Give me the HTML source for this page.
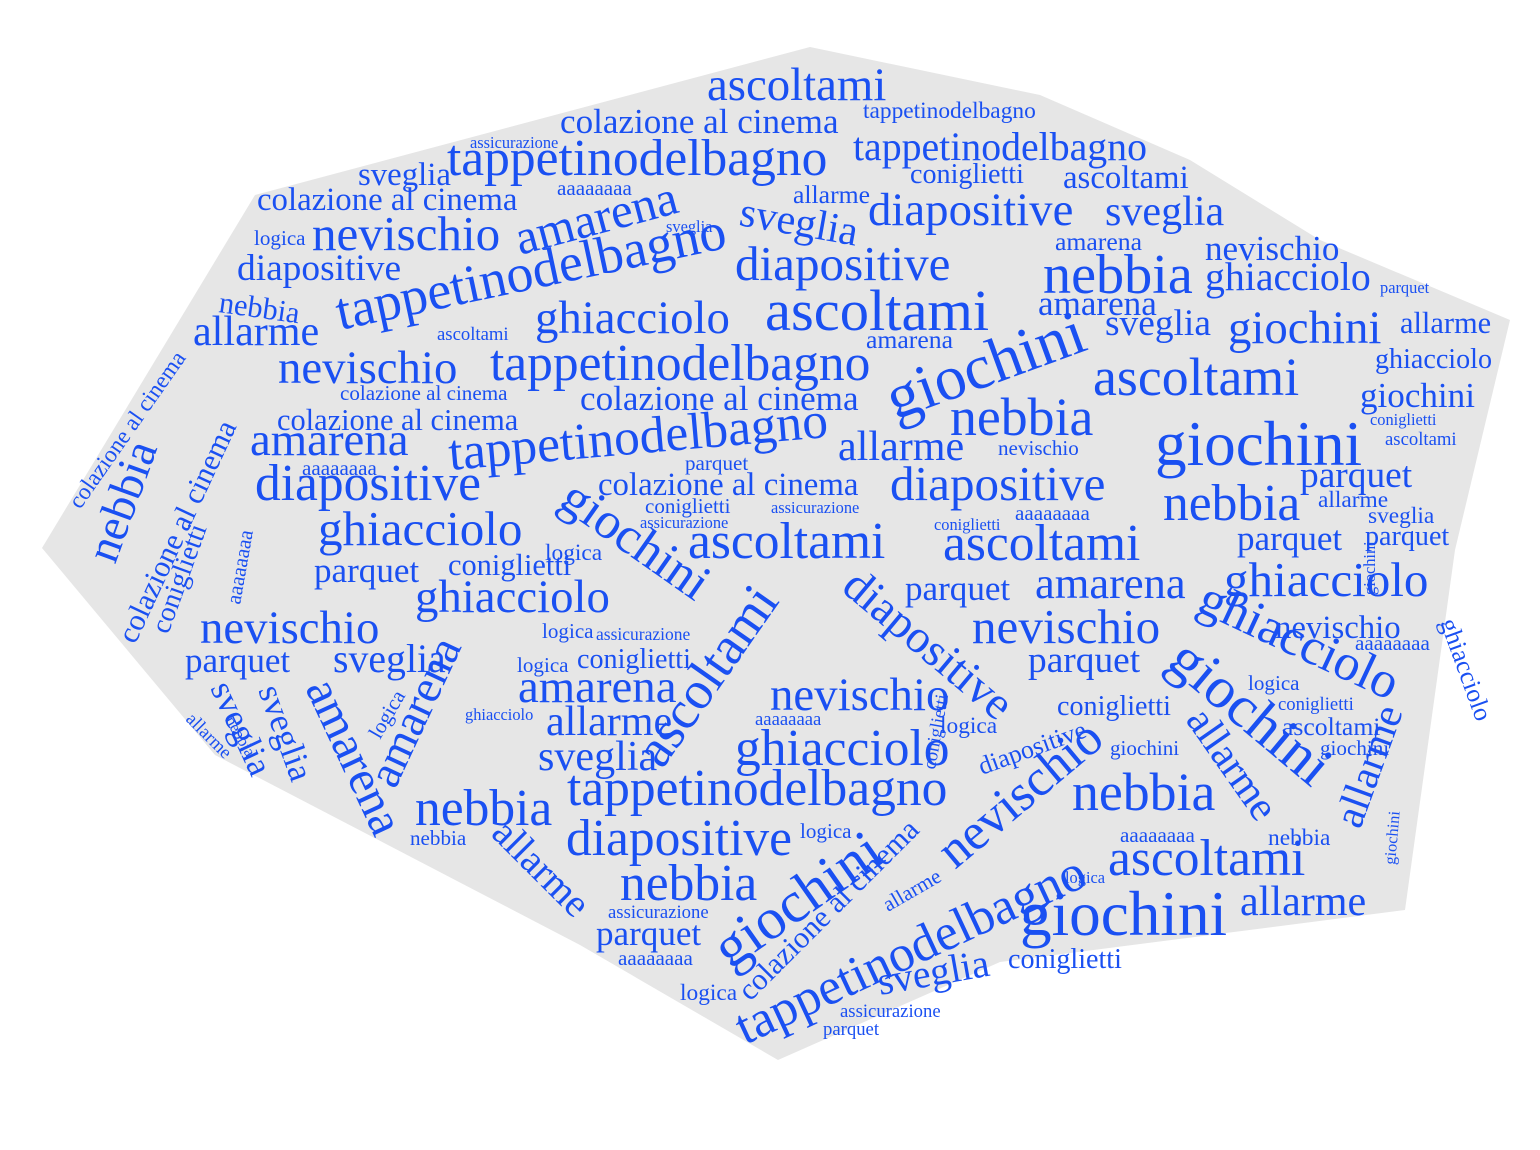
<!DOCTYPE html>
<html><head><meta charset="utf-8">
<style>
html,body{margin:0;padding:0;background:#fff;}
svg{display:block;}
text{font-family:"Liberation Serif",serif;fill:#1a50f2;}
</style></head>
<body>
<svg id="cloud" width="1540" height="1150" viewBox="0 0 1540 1150">
<polygon fill="#e6e6e6"
points="255,195 810,47 1040,95 1190,160 1320,240 1510,320 1455,550 1405,910 1000,962 778,1060 580,945 215,755 42,548"/>
<g id="words"></g>
</svg>
<script>
const words=["ascoltami","tappetinodelbagno","colazione al cinema","assicurazione","tappetinodelbagno","tappetinodelbagno","sveglia","coniglietti","ascoltami","aaaaaaaa","colazione al cinema","allarme","diapositive","sveglia","nevischio","amarena","sveglia","sveglia","logica","diapositive","tappetinodelbagno","diapositive","amarena","nevischio","nebbia","ghiacciolo","amarena","parquet","nebbia","allarme","ghiacciolo","ascoltami","ascoltami","amarena","sveglia","giochini","allarme","giochini","nevischio","tappetinodelbagno","ascoltami","ghiacciolo","giochini","colazione al cinema","colazione al cinema","colazione al cinema","nebbia","coniglietti","amarena","tappetinodelbagno","allarme","nevischio","giochini","ascoltami","parquet","nebbia","colazione al cinema","colazione al cinema","diapositive","aaaaaaaa","parquet","colazione al cinema","diapositive","nebbia","allarme","sveglia","giochini","coniglietti","assicurazione","assicurazione","coniglietti","aaaaaaaa","ghiacciolo","ascoltami","ascoltami","parquet","parquet","coniglietti","aaaaaaaa","parquet","coniglietti","parquet","amarena","ghiacciolo","ghiacciolo","ascoltami","diapositive","nevischio","nevischio","nevischio","aaaaaaaa","logica","assicurazione","parquet","sveglia","coniglietti","logica","parquet","ghiacciolo","giochini","amarena","nevischio","logica","coniglietti","coniglietti","amarena","amarena","sveglia","sveglia","logica","allarme","ascoltami","ghiacciolo","logica","giochini","giochini","sveglia","aaaaaaaa","nebbia","tappetinodelbagno","nevischio","allarme","allarme","nebbia","diapositive","diapositive","logica","allarme","nebbia","aaaaaaaa","nebbia","ascoltami","giochini","nebbia","colazione al cinema","tappetinodelbagno","allarme","giochini","logica","coniglietti","sveglia","parquet","assicurazione","aaaaaaaa","logica","assicurazione","parquet","allarme","ghiacciolo","nebbia","logica","giochini","ghiacciolo","allarme","coniglietti","giochini"];
const sizes=[40,20,30,14,44,34,28,24,28,18,28,22,40,36,42,42,36,14,18,32,46,42,22,30,48,34,30,14,26,36,40,50,16,22,32,40,26,54,40,44,46,24,30,30,18,26,46,14,40,44,36,18,54,16,32,40,20,26,44,18,18,28,42,44,20,20,44,18,14,14,14,18,42,44,44,30,24,24,18,30,26,30,38,42,40,46,40,40,42,28,18,18,15,30,34,24,18,32,44,50,40,40,18,24,16,42,40,30,30,18,36,22,44,20,18,18,36,16,44,44,44,36,36,46,44,22,18,34,18,18,20,44,50,44,26,44,36,54,14,24,34,30,16,18,20,16,16,18,14,14,20,14,22,16,16,14];
const xs=[707,863,560,470,447,853,358,910,1063,557,257,793,868,1105,312,520,738,666,254,237,340,735,1055,1205,1043,1205,1038,1380,218,193,535,765,437,866,1105,1228,1400,895,278,490,1093,1375,1360,580,340,277,950,1370,250,450,838,998,1155,1385,1300,115,80,135,255,302,685,598,890,1163,1318,1368,557,645,640,771,934,1015,318,688,943,1237,1365,168,240,314,448,905,1035,1224,415,662,840,200,972,1275,1355,542,596,185,333,577,517,1028,1195,1165,518,770,1248,1057,1278,305,395,210,258,380,546,1282,735,940,1320,1110,538,755,415,567,955,1185,1360,1072,566,982,800,490,410,1120,1268,1108,730,620,750,745,1240,1020,1065,1008,880,596,608,618,680,840,823,888,465,225,545,1375,1440,185,935,1395];
const ys=[100,118,133,148,175,160,185,183,188,195,210,203,225,225,250,255,225,232,245,280,330,280,250,260,293,290,315,293,312,345,333,330,340,348,335,343,333,420,383,380,395,368,407,410,400,430,435,425,455,470,460,455,465,445,487,565,510,645,500,475,470,495,500,520,507,523,505,513,528,513,530,520,545,558,560,550,545,635,605,582,575,600,598,596,612,770,590,643,643,638,650,638,640,672,672,668,672,672,610,665,702,710,690,715,710,688,790,688,690,740,735,735,765,733,755,755,770,725,825,805,870,720,830,810,855,775,838,835,845,842,845,875,970,900,1002,1045,915,935,883,968,995,945,918,965,1000,1017,1035,912,720,720,560,595,622,720,770,865];
const rots=[0,0,0,0,0,0,0,0,0,0,0,0,0,0,0,-15,10,0,0,0,-12,0,0,0,0,0,0,0,8,0,0,0,0,0,0,0,0,-20,0,0,0,0,0,0,0,0,0,0,0,-5,0,0,0,0,0,-70,-55,-65,0,0,0,0,0,0,0,0,35,0,0,0,0,0,0,0,0,0,0,-70,-80,0,0,0,0,0,0,-55,40,0,0,0,0,0,0,0,0,0,0,0,25,40,0,0,0,0,0,65,-65,65,70,-60,0,0,0,0,0,0,0,0,0,0,-40,55,-70,0,0,-20,0,45,0,0,0,0,-35,0,-45,-25,0,0,0,0,-10,0,0,0,0,0,0,-30,0,60,0,-90,70,45,-80,-85,90];
const scale=1.17;

const g=document.getElementById('words');
const NS='http://www.w3.org/2000/svg';
for(let i=0;i<words.length;i++){
  const t=document.createElementNS(NS,'text');
  t.setAttribute('x',xs[i]);
  t.setAttribute('y',ys[i]);
  t.setAttribute('font-size',(sizes[i]*scale).toFixed(1));
  if(rots[i]) t.setAttribute('transform','rotate('+rots[i]+' '+xs[i]+' '+ys[i]+')');
  t.textContent=words[i];
  
  
  g.appendChild(t);
}
</script>
</body></html>
